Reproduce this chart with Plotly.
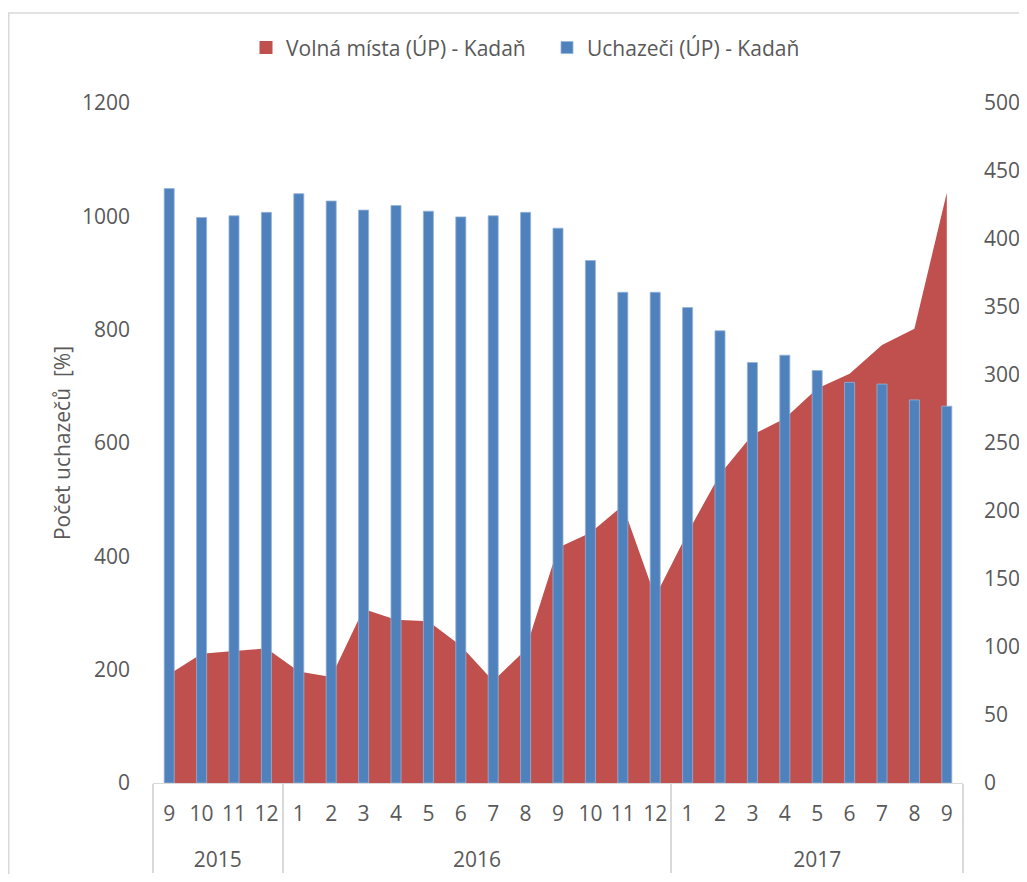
import plotly.graph_objects as go

years = ["2015"] * 4 + ["2016"] * 12 + ["2017"] * 9
# 2015 month labels carry a zero-width space so plotly keeps each year's months in order
months = ["9\u200b", "10\u200b", "11\u200b", "12\u200b",
          "1", "2", "3", "4", "5", "6", "7", "8", "9", "10", "11", "12",
          "1", "2", "3", "4", "5", "6", "7", "8", "9"]

uchazeci = [1049, 998, 1001, 1007, 1040, 1027, 1011, 1019, 1009, 999, 1001, 1007,
            979, 922, 866, 866, 839, 798, 742, 755, 728, 707, 704, 676, 665]
volna_mista = [80, 95, 97, 99, 82, 78, 128, 120, 119, 101, 75, 98,
               173, 184, 204, 137, 184, 227, 256, 268, 290, 301, 322, 334, 434]

name_vm = "Volná místa (ÚP) - Kadaň"
name_uch = "Uchazeči (ÚP) - Kadaň"

# year row is pushed one line lower, as in the reference
year_labels = ["<br>" + y for y in years]
xcats = [year_labels, months]

FONT = "Open Sans"
GRAY = "#595959"
RED = "#C0504D"
BLUE = "#4F81BD"
FS = 21

fig = go.Figure()

fig.add_trace(go.Scatter(
    x=xcats, y=volna_mista, name=name_vm, showlegend=False,
    legendgroup="vm", mode="lines", line=dict(width=0, color=RED),
    fill="tozeroy", fillcolor=RED, yaxis="y", hoverinfo="x+y",
))
# legend entry (square swatch) for the area series, on a hidden helper axis
fig.add_trace(go.Scatter(
    x=[None], y=[None], name=name_vm, legendgroup="vm",
    mode="markers", marker=dict(symbol="square", size=13, color=RED),
    xaxis="x2", yaxis="y",
))
fig.add_trace(go.Bar(
    x=xcats, y=uchazeci, name=name_uch,
    marker=dict(color=BLUE, line=dict(width=0.8, color="#95B3D7")),
    yaxis="y2",
))

fig.update_layout(
    width=1019, height=866,
    margin=dict(l=145, r=64, t=95, b=91, autoexpand=False),
    paper_bgcolor="white", plot_bgcolor="rgba(0,0,0,0)",
    font=dict(family=FONT, size=FS, color=GRAY),
    bargap=0.69,
    showlegend=True,
    legend=dict(orientation="h", x=(246 - 153) / 810, xanchor="left", y=1.081, yanchor="middle",
                font=dict(family=FONT, size=FS, color=GRAY), traceorder="normal",
                itemwidth=30, entrywidth=256, entrywidthmode="pixels"),
    xaxis=dict(
        type="multicategory", showline=True, linecolor="#D9D9D9", linewidth=1,
        showgrid=False, ticks="", tickfont=dict(family=FONT, size=FS, color=GRAY),
        showdividers=True, dividercolor="#D9D9D9", dividerwidth=1.5,
        ticklabelstandoff=12, automargin=False,
    ),
    xaxis2=dict(overlaying="x", visible=False, range=[0, 1], automargin=False),
    yaxis=dict(
        side="right", range=[0, 500], dtick=50, showgrid=False, zeroline=False,
        showline=False, ticks="", tickfont=dict(family=FONT, size=FS, color=GRAY),
        ticklabelstandoff=20, automargin=False,
    ),
    yaxis2=dict(
        overlaying="y", side="left", range=[0, 1200], dtick=200, showgrid=False,
        zeroline=False, showline=False, ticks="",
        tickfont=dict(family=FONT, size=FS, color=GRAY),
        ticklabelstandoff=22, automargin=False,
        title=dict(text="Počet uchazečů  [%]", font=dict(family=FONT, size=FS, color=GRAY),
                   standoff=5),
    ),
)

fig.add_shape(type="rect", xref="paper", yref="paper",
              x0=(0.8 - 145) / 810, x1=(1060 - 145) / 810,
              y0=(680 + 95 - 900) / 680, y1=(680 + 95 - 5) / 680,
              line=dict(color="#D9D9D9", width=1.5), fillcolor="rgba(0,0,0,0)", layer="below")

fig.write_html("out.html")
